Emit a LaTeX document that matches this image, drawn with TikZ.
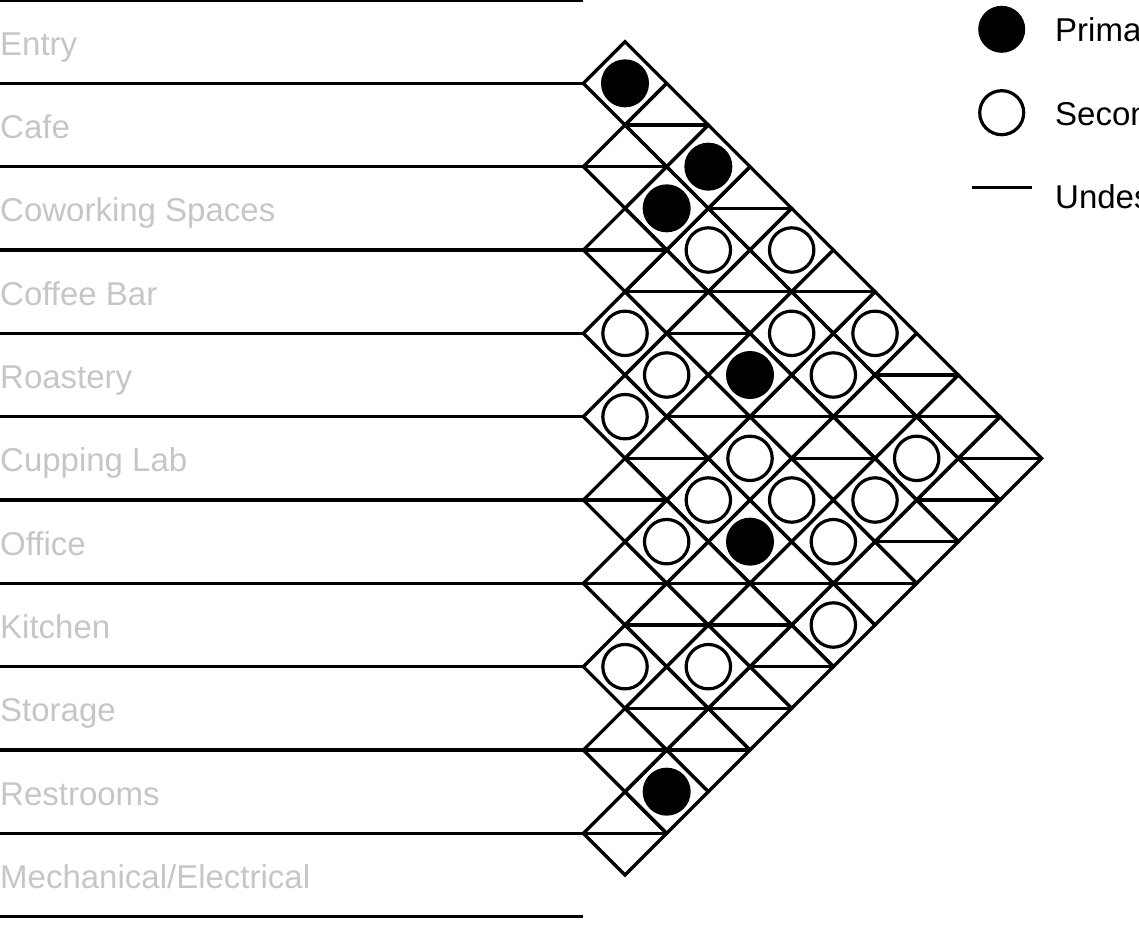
\documentclass[tikz,border=0pt]{standalone}
\usepackage{fontspec}
\setmainfont{Liberation Sans}
\definecolor{labgray}{RGB}{198,198,198}
\begin{document}
\begin{tikzpicture}[x=1pt,y=-1pt,
  grid/.style={line width=3.3pt, black},
  lab/.style={anchor=base west, inner sep=0pt, text=labgray, font=\fontsize{33}{40}\selectfont},
  legtext/.style={anchor=base west, inner sep=0pt, text=black, font=\fontsize{33}{40}\selectfont},
  primary/.style={fill=black},
  secondary/.style={draw=black, line width=3.2pt, fill=white}]
\clip (0,0) rectangle (1139,931);
\def\u{41.6667}
% row lines
\foreach \k in {0,...,11}{
  \coordinate (rl-\k) at (0,{\k*2*\u});
  \coordinate (rr-\k) at (583.333,{\k*2*\u});
  \draw[grid] (rl-\k) -- (rr-\k);
}
% row labels
\foreach \k/\name in {0/Entry,1/Cafe,2/Coworking Spaces,3/Coffee Bar,4/Roastery,5/Cupping Lab,6/Office,7/Kitchen,8/Storage,9/Restrooms,10/Mechanical\slash Electrical}{
  \node[lab] (lab-\k) at (0,{(2*\k+1)*\u+13.5}) {\name};
}
% cells
\foreach \i in {0,...,9}{
  \pgfmathtruncatemacro\js{\i+1}
  \foreach \j in {\js,...,10}{
    \pgfmathsetmacro\cx{583.333+(\j-\i)*\u}
    \pgfmathsetmacro\cy{\u*(1+\i+\j)}
    \coordinate (c-\i-\j) at (\cx,\cy);
    \draw[grid] (\cx-\u,\cy) -- (\cx,\cy-\u) -- (\cx+\u,\cy) -- (\cx,\cy+\u) -- cycle;
  }
}
% undesirable
\foreach \p in {0-2,1-2,0-4,2-3,2-4,1-5,0-6,2-5,0-8,3-6,2-7,1-8,0-9,4-6,2-8,0-10,5-6,1-10,2-10,6-7,5-8,4-9,3-10,6-8,5-9,5-10,7-9,6-10,8-9,7-10,9-10}{
  \draw[grid] ([xshift=-\u pt]c-\p) -- ([xshift=\u pt]c-\p);
}
% primary
\foreach \p in {0-1,0-3,1-3,2-6,4-8,8-10}{
  \fill[primary] (c-\p) circle (24pt);
}
% secondary
\foreach \p in {1-4,0-5,3-4,1-6,0-7,3-5,1-7,4-5,3-7,1-9,4-7,3-8,2-9,5-7,3-9,4-10,7-8,6-9}{
  \draw[secondary] (c-\p) circle (22.2pt);
}
% legend
\coordinate (legP) at (1001.7,29.3);
\coordinate (legS) at (1001.7,112.7);
\coordinate (legUa) at (972,187.7);
\coordinate (legUb) at (1032,187.7);
\fill[primary] (legP) circle (23.5pt);
\draw[secondary] (legS) circle (22pt);
\draw[grid] (legUa) -- (legUb);
\node[legtext] (legPt) at (1055,41.7) {Primary};
\node[legtext] (legSt) at (1055,125) {Secondary};
\node[legtext] (legUt) at (1055,208.3) {Undesirable};
\end{tikzpicture}
\end{document}
